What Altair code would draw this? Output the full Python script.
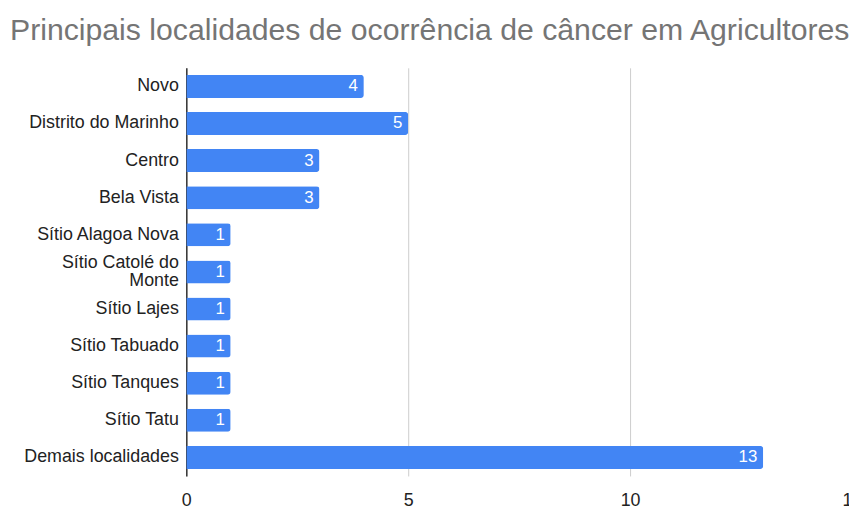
import altair as alt
import pandas as pd

categories = ["Novo", "Distrito do Marinho", "Centro", "Bela Vista", "Sítio Alagoa Nova",
              "Sítio Catolé do Monte", "Sítio Lajes", "Sítio Tabuado", "Sítio Tanques",
              "Sítio Tatu", "Demais localidades"]
values = [4, 5, 3, 3, 1, 1, 1, 1, 1, 1, 13]
x_ticks = [0, 5, 10, 15]

df = pd.DataFrame({"local": categories, "n": values})

FONT = "Liberation Sans"
BLUE = "#4285F4"

y = alt.Y("local:N", sort=categories, title=None,
          scale=alt.Scale(paddingInner=0.38, paddingOuter=0.19),
          axis=alt.Axis(labelFontSize=18, labelColor="#222222", labelFont=FONT,
                        labelPadding=8, ticks=False, domainColor="#333333", domainWidth=1.5,
                        labelLineHeight=18, labelLimit=300, grid=False,
                        labelOffset={"condition": {"test": "datum.value == 'Sítio Catolé do Monte'",
                                                   "value": -9}, "value": 0},
                        labelExpr="datum.label == 'Sítio Catolé do Monte' ? ['Sítio Catolé do', 'Monte'] : datum.label"))
x = alt.X("n:Q", title=None,
          scale=alt.Scale(domain=[0, 15], range=[0, 672], nice=False),
          axis=alt.Axis(values=x_ticks, labelFontSize=18, labelColor="#222222", labelFont=FONT,
                        ticks=False, domain=False, gridColor="#cccccc", gridWidth=1,
                        labelPadding=16, labelFlush=False))

bars = alt.Chart(df).mark_bar(color=BLUE, cornerRadiusTopRight=3, cornerRadiusBottomRight=3).encode(
    x=x, y=y)
text = alt.Chart(df).mark_text(align="right", baseline="middle", dx=-6, color="white",
                               fontSize=17, font=FONT).encode(
    x=alt.X("n:Q"), y=alt.Y("local:N", sort=categories), text="n:Q")

chart = (bars + text).properties(
    width=669, height=412,
    background="white",
    autosize=alt.AutoSizeParams(type="none"),
    padding={"left": 180, "top": 58, "right": 0, "bottom": 34},
    title=alt.TitleParams("Principais localidades de ocorrência de câncer em Agricultores",
                          anchor="start", frame="group", dx=-178, offset=22,
                          fontSize=30.5, font=FONT, fontWeight="normal", color="#757575"),
).configure_view(strokeWidth=0, stroke="transparent")

chart.save("out.html", embed_options={"renderer": "svg", "actions": False})
